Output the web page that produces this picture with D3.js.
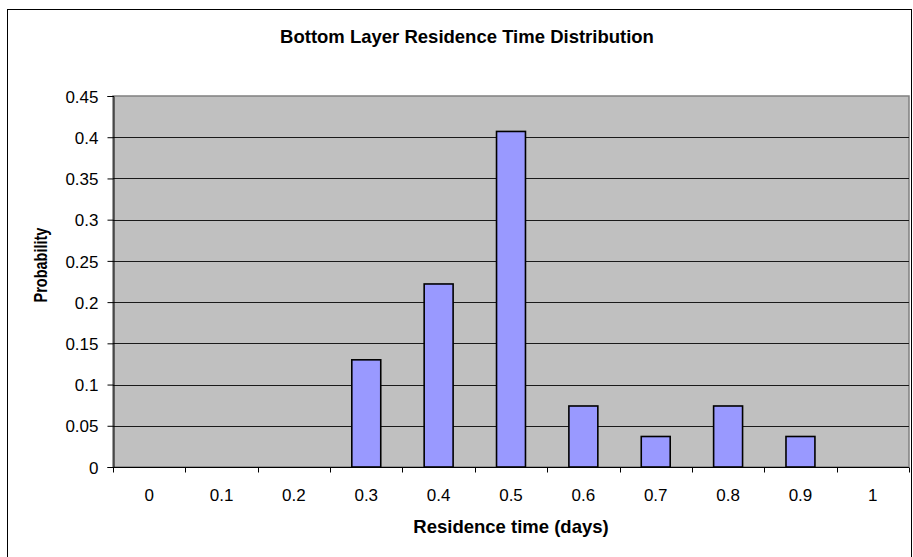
<!DOCTYPE html>
<html>
<head>
<meta charset="utf-8">
<script src="https://cdn.jsdelivr.net/npm/d3@7"></script>
<style>
  html, body { margin: 0; padding: 0; background: #fff; }
  svg { display: block; font-family: "Liberation Sans", Arial, sans-serif; }
</style>
</head>
<body>
<svg id="chart" width="913" height="557"></svg>
<script>
// Residence time bins (days) and their probabilities
const categories = ["0", "0.1", "0.2", "0.3", "0.4", "0.5", "0.6", "0.7", "0.8", "0.9", "1"];
const probability = [0, 0, 0, 0.13, 0.222, 0.407, 0.074, 0.037, 0.074, 0.037, 0];
const yTicks = [0, 0.05, 0.1, 0.15, 0.2, 0.25, 0.3, 0.35, 0.4, 0.45];

const titleText = "Bottom Layer Residence Time Distribution";
const xTitle = "Residence time (days)";
const yTitle = "Probability";

const svg = d3.select("#chart");
const plot = { left: 113, right: 909, top: 96, bottom: 467 };

// chart frame
svg.append("rect")
  .attr("x", 7.5).attr("y", 9.5)
  .attr("width", 904).attr("height", 560)
  .attr("fill", "#fff").attr("stroke", "#000").attr("stroke-width", 1);

const x = d3.scaleBand()
  .domain(categories)
  .range([plot.left, plot.right])
  .paddingInner(0.6).paddingOuter(0.3);

const xTickScale = d3.scaleBand().domain(categories).range([plot.left, plot.right]);

const y = d3.scaleLinear().domain([0, 0.45]).range([plot.bottom, plot.top]);

// plot area background
svg.append("rect")
  .attr("x", plot.left).attr("y", plot.top)
  .attr("width", plot.right - plot.left).attr("height", plot.bottom - plot.top)
  .attr("fill", "#c0c0c0").attr("stroke", "#808080").attr("stroke-width", 1.5);

// horizontal gridlines
svg.append("g")
  .selectAll("line")
  .data(yTicks.filter(d => d > 0 && d < 0.45))
  .join("line")
  .attr("x1", plot.left).attr("x2", plot.right)
  .attr("y1", d => Math.round(y(d)) + 0.5).attr("y2", d => Math.round(y(d)) + 0.5)
  .attr("stroke", "#1a1a1a").attr("stroke-width", 1);

// bars
svg.append("g")
  .selectAll("rect")
  .data(categories.map((c, i) => ({ c, v: probability[i] })).filter(d => d.v > 0))
  .join("rect")
  .attr("x", d => x(d.c))
  .attr("y", d => y(d.v))
  .attr("width", x.bandwidth())
  .attr("height", d => y(0) - y(d.v))
  .attr("fill", "#9999ff")
  .attr("stroke", "#000").attr("stroke-width", 1.6);

// y axis
const yAxis = svg.append("g")
  .attr("transform", `translate(${plot.left + 0.5},0)`)
  .call(d3.axisLeft(y).tickValues(yTicks).tickSize(6).tickPadding(9)
    .tickFormat(d => String(+d.toFixed(2))));
yAxis.select(".domain").attr("stroke", "#000");
yAxis.selectAll(".tick line").attr("stroke", "#000");
yAxis.selectAll("text")
  .attr("font-size", 17).attr("fill", "#000").attr("dy", "0.36em")
  .attr("font-family", "'Liberation Sans', Arial, sans-serif");

// x axis with ticks between categories
const xAxis = svg.append("g")
  .attr("transform", `translate(0,${plot.bottom + 0.5})`);
xAxis.append("line")
  .attr("x1", plot.left).attr("x2", plot.right)
  .attr("stroke", "#000");
const boundaries = categories.map(c => xTickScale(c)).concat([plot.right]);
xAxis.selectAll("line.tk")
  .data(boundaries)
  .join("line").attr("class", "tk")
  .attr("x1", d => Math.round(d) + 0.5).attr("x2", d => Math.round(d) + 0.5)
  .attr("y1", 0).attr("y2", 5)
  .attr("stroke", "#000");
xAxis.selectAll("text")
  .data(categories)
  .join("text")
  .attr("x", d => xTickScale(d) + xTickScale.bandwidth() / 2)
  .attr("y", 33.5)
  .attr("text-anchor", "middle")
  .attr("font-size", 17).attr("fill", "#000")
  .text(d => d);

// titles
svg.append("text")
  .attr("x", 467).attr("y", 43)
  .attr("text-anchor", "middle")
  .attr("font-size", 18.5).attr("font-weight", "bold")
  .text(titleText);

svg.append("text")
  .attr("x", (plot.left + plot.right) / 2).attr("y", 532.5)
  .attr("text-anchor", "middle")
  .attr("font-size", 18.5).attr("font-weight", "bold")
  .text(xTitle);

// vertical axis title, glyphs widened across the rotated baseline
svg.append("text")
  .attr("transform", "translate(47,265) rotate(-90) scale(1,1.3)")
  .attr("text-anchor", "middle")
  .attr("font-size", 14.5).attr("font-weight", "bold")
  .text(yTitle);
</script>
</body>
</html>
